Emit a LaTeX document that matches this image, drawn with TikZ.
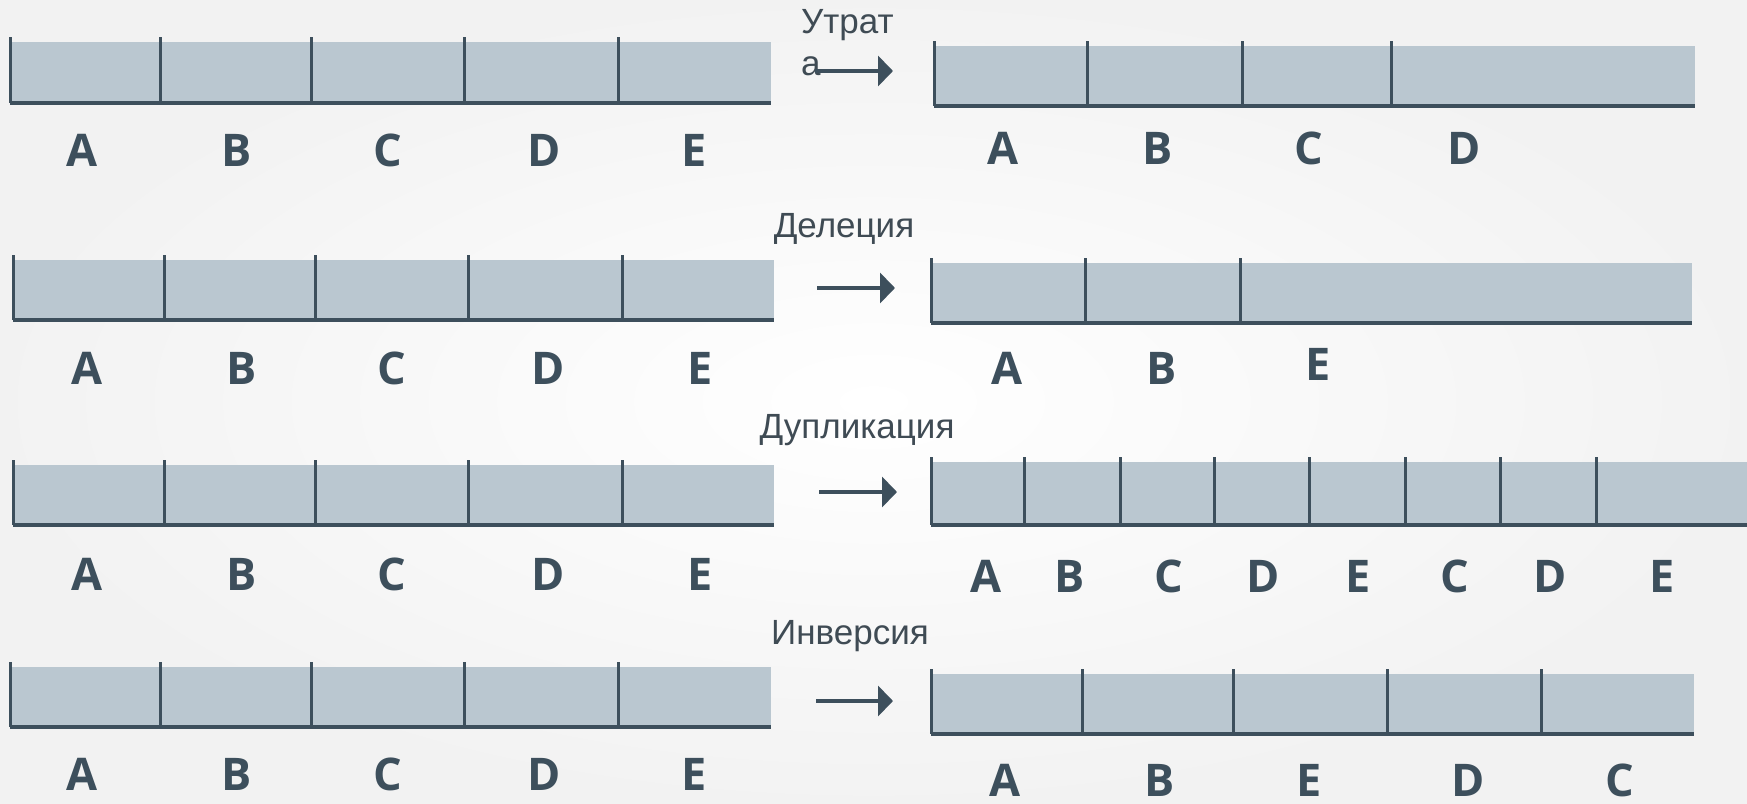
\documentclass[tikz,border=0pt]{standalone}
\usepackage{fontspec}
\setmainfont{Liberation Sans}
\newfontfamily\labfont{Open Sans}
\usetikzlibrary{arrows.meta}

\definecolor{barfill}{HTML}{BAC7D0}
\definecolor{barline}{HTML}{3D4F5C}
\definecolor{captext}{HTML}{3F4B54}

\begin{document}
\begin{tikzpicture}[x=1pt, y=-1pt,
    lab/.style={font=\labfont\bfseries\fontsize{45}{50}\selectfont, text=barline, inner sep=0pt},
    captxt/.style={font=\fontsize{35}{42}\selectfont, text=captext, inner sep=0pt},
    seg/.style={barline, line width=3pt},
    bottomline/.style={barline, line width=4.5pt},
    arr/.style={barline, line width=4.5pt, -{Triangle[length=15pt, width=30pt]}}]
        \useasboundingbox (0,0) rectangle (1747,803);
        \shade[inner color=white, outer color=black!5] (0,0) rectangle (1747,803);

        % row 1: loss
        \fill[barfill] (10,42) rectangle (771,103);
        \draw[bottomline] (10,103) -- (771,103);
        \foreach \x in {10,160,311,464,618} \draw[seg] (\x,37) -- (\x,103);
        \foreach \x/\t in {82/A,237/B,388/C,544/D,694/E}
            \node[lab] (lossL\t) at (\x,150) {\t};

        \fill[barfill] (934,46) rectangle (1695,106);
        \draw[bottomline] (934,106) -- (1695,106);
        \foreach \x in {934,1087,1242,1391} \draw[seg] (\x,41) -- (\x,106);
        \foreach \x/\t in {1003/A,1158/B,1309/C,1464/D}
            \node[lab] (lossR\t) at (\x,148) {\t};

        \node[captxt, anchor=base west, align=left] (loss) at (801,75) {Утрат\\а};
        \coordinate (lossS) at (815,71);
        \coordinate (lossT) at (893,71);
        \draw[arr] (lossS) -- (lossT);

        % row 2: deletion
        \fill[barfill] (13,260) rectangle (774,320);
        \draw[bottomline] (13,320) -- (774,320);
        \foreach \x in {13,164,315,468,622} \draw[seg] (\x,255) -- (\x,320);
        \foreach \x/\t in {87/A,242/B,392/C,548/D,700/E}
            \node[lab] (delL\t) at (\x,368) {\t};

        \fill[barfill] (931,263) rectangle (1692,323);
        \draw[bottomline] (931,323) -- (1692,323);
        \foreach \x in {931,1085,1240} \draw[seg] (\x,258) -- (\x,323);
        \node[lab] (delRA) at (1007,368) {A};
        \node[lab] (delRB) at (1162,368) {B};
        \node[lab] (delRE) at (1318,364) {E};

        \node[captxt, anchor=base] (del) at (844,237) {Делеция};
        \coordinate (delS) at (817,288);
        \coordinate (delT) at (895,288);
        \draw[arr] (delS) -- (delT);

        % row 3: duplication
        \fill[barfill] (13,465) rectangle (774,525);
        \draw[bottomline] (13,525) -- (774,525);
        \foreach \x in {13,164,315,468,622} \draw[seg] (\x,460) -- (\x,525);
        \foreach \x/\t in {87/A,242/B,392/C,548/D,700/E}
            \node[lab] (dupL\t) at (\x,574) {\t};

        \fill[barfill] (931,462) rectangle (1747,525);
        \draw[bottomline] (931,525) -- (1747,525);
        \foreach \x in {931,1024,1120,1214,1309,1405,1500,1596} \draw[seg] (\x,457) -- (\x,525);
        \foreach \x/\t [count=\i] in {986/A,1070/B,1169/C,1263/D,1358/E,1455/C,1550/D,1662/E}
            \node[lab] (dupR\i) at (\x,576) {\t};

        \node[captxt, anchor=base] (dup) at (857,438) {Дупликация};
        \coordinate (dupS) at (819,492);
        \coordinate (dupT) at (897,492);
        \draw[arr] (dupS) -- (dupT);

        % row 4: inversion
        \fill[barfill] (10,667) rectangle (771,727);
        \draw[bottomline] (10,727) -- (771,727);
        \foreach \x in {10,160,311,464,618} \draw[seg] (\x,662) -- (\x,727);
        \foreach \x/\t in {82/A,237/B,388/C,544/D,694/E}
            \node[lab] (invL\t) at (\x,774) {\t};

        \fill[barfill] (931,674) rectangle (1694,734);
        \draw[bottomline] (931,734) -- (1694,734);
        \foreach \x in {931,1082,1233,1387,1541} \draw[seg] (\x,669) -- (\x,734);
        \foreach \x/\t in {1005/A,1160/B,1309/E,1468/D,1620/C}
            \node[lab] (invR\t) at (\x,780) {\t};

        \node[captxt, anchor=base] (inv) at (850,644) {Инверсия};
        \coordinate (invS) at (816,701);
        \coordinate (invT) at (893,701);
        \draw[arr] (invS) -- (invT);
\end{tikzpicture}
\end{document}
